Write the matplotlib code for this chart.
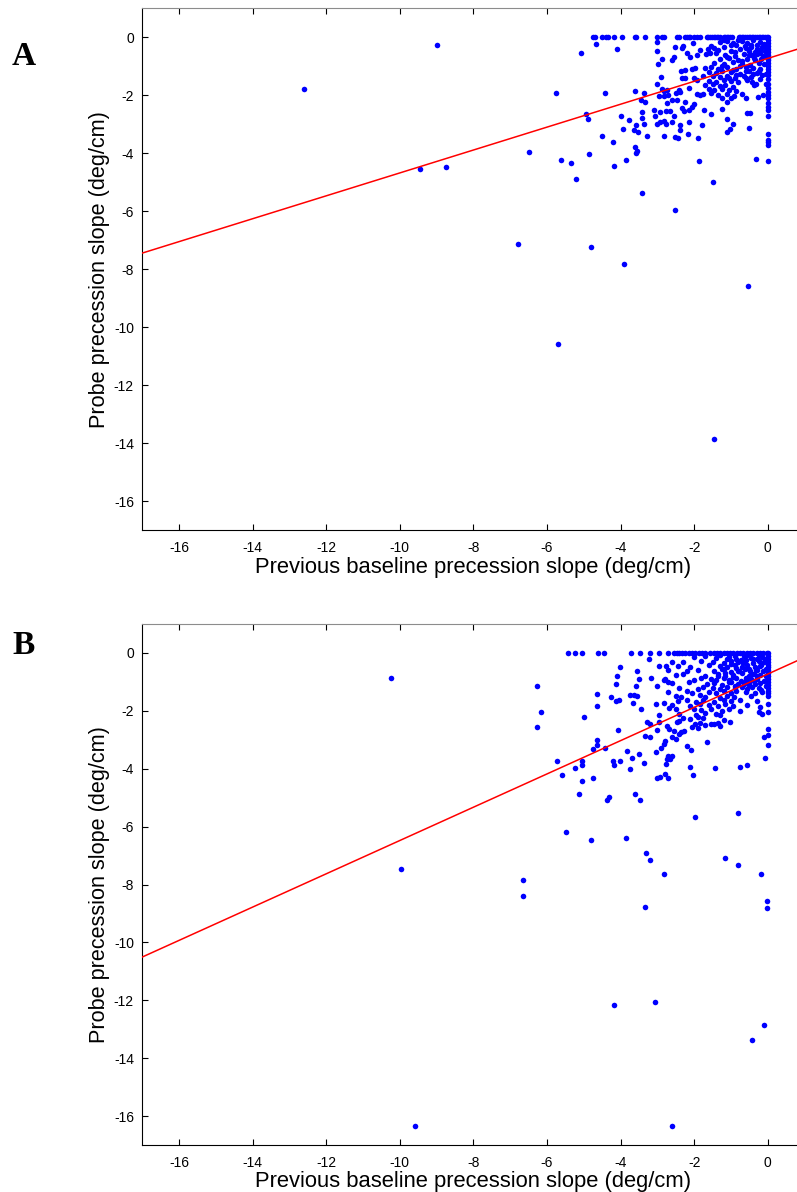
import numpy as np
import matplotlib
matplotlib.use('Agg')
import matplotlib.pyplot as plt

plt.rcParams['font.family'] = ['Liberation Sans', 'DejaVu Sans']
plt.rcParams['axes.unicode_minus'] = False

# ---------------- panel A data (deg/cm) ----------------
# points sitting on the zero line of the probe slope
a_top_x = [-4.75, -4.69, -4.51, -4.39, -4.34, -4.17, -3.95, -3.62, -3.58, -3.34, -3.01, -2.88, -2.81,
           -2.47, -2.42, -2.24, -2.19, -2.15, -2.10, -2.01, -1.92, -1.85, -1.65, -1.61, -1.56, -1.52,
           -1.47, -1.43, -1.38, -1.34, -1.29, -1.20, -1.15, -1.11, -1.07, -1.02, -0.97, -0.79, -0.75,
           -0.70, -0.66, -0.61, -0.57, -0.52, -0.48, -0.43, -0.39, -0.34, -0.30, -0.25, -0.21, -0.16,
           -0.12, -0.07, -0.03, 0.0]
a_top_y = [0, 0, 0, 0, 0, 0, 0, 0, 0, 0, 0, 0, 0,
           0, 0, 0, 0, 0, 0, 0, 0, 0, 0, 0, 0, 0,
           0, 0, 0, 0, 0, 0, 0, 0, 0, 0, 0, 0, 0,
           0, 0, 0, 0, 0, 0, 0, 0, 0, 0, 0, 0, 0,
           0, 0, 0, 0]
# points sitting on the zero line of the baseline slope
a_edge_y = [-0.1, -0.2, -0.3, -0.4, -0.5, -0.6, -0.7, -0.8, -0.9, -1.0, -1.1, -1.2, -1.3, -1.45,
            -1.6, -1.75, -1.9, -2.0, -2.11, -2.28, -2.4, -2.51, -2.71, -3.35, -3.55, -3.63, -3.72, -4.28]
a_edge_x = [0, 0, 0, 0, 0, 0, 0, 0, 0, 0, 0, 0, 0, 0,
            0, 0, 0, 0, 0, 0, 0, 0, 0, 0, 0, 0, 0, 0]
# dense cloud near the origin
a_cl_x = [-1.3, -1.1, -0.95, -0.7, -0.55, -0.4, -0.2, -0.1,
          -1.55, -1.2, -0.85, -0.62, -0.45, -0.3, -0.15,
          -1.35, -1.0, -0.75, -0.5, -0.35, -0.22, -0.08,
          -1.15, -0.9, -0.65, -0.42, -0.28, -0.12,
          -1.3, -1.05, -0.8, -0.55, -0.35, -0.18,
          -1.45, -1.2, -0.95, -0.7, -0.48, -0.25, -0.1,
          -1.7, -1.55, -1.35, -1.1, -0.85, -0.6, -0.4, -0.2,
          -1.6, -1.4, -1.25, -1.0, -0.75, -0.5, -0.3,
          -1.75, -1.5, -1.3, -1.1, -0.9, -0.65, -0.45, -0.15,
          -1.6, -1.4, -1.2, -1.0, -0.8, -0.55,
          -1.7, -1.5, -1.3, -1.15, -0.95, -0.38, -0.31,
          -1.6, -1.45, -1.25, -1.05, -0.85,
          -1.75, -1.55, -1.35, -1.1, -0.69,
          -1.2, -1.0, -0.8, -0.6, -0.45, -0.3, -0.05,
          -1.4, -1.1, -0.9, -0.7, -0.52, -0.38, -0.2, -0.05,
          -1.25, -0.95, -0.75, -0.58, -0.4, -0.25, -0.05,
          -1.05, -0.85, -0.6, -0.42, -0.22, -0.05]
a_cl_y = [-0.15, -0.12, -0.18, -0.14, -0.2, -0.11, -0.16, -0.22,
          -0.3, -0.33, -0.27, -0.31, -0.35, -0.28, -0.32,
          -0.45, -0.48, -0.42, -0.46, -0.5, -0.43, -0.47,
          -0.6, -0.63, -0.58, -0.62, -0.57, -0.65,
          -0.75, -0.72, -0.78, -0.74, -0.8, -0.76,
          -0.9, -0.93, -0.87, -0.91, -0.95, -0.88, -0.92,
          -1.05, -1.02, -1.08, -1.04, -1.1, -1.01, -1.06, -1.09,
          -1.2, -1.23, -1.17, -1.21, -1.25, -1.18, -1.22,
          -1.35, -1.32, -1.38, -1.34, -1.4, -1.33, -1.37, -1.31,
          -1.5, -1.53, -1.47, -1.51, -1.55, -1.48,
          -1.65, -1.62, -1.68, -1.64, -1.7, -1.65, -1.62,
          -1.8, -1.83, -1.77, -1.81, -1.85,
          -1.95, -1.92, -1.98, -1.94, -1.95,
          -0.08, -0.25, -0.1, -0.38, -0.27, -0.4, -0.35,
          -0.55, -0.68, -0.52, -0.83, -0.6, -0.7, -0.55, -0.65,
          -0.98, -1.12, -0.98, -1.15, -1.28, -1.15, -1.25,
          -1.42, -1.3, -1.42, -1.55, -1.45, -1.6]
# everything else
a_x = [-12.6, -9.0, -9.46, -8.75, -6.79, -4.8, -3.9, -2.52, -0.54, -5.69, -1.46, -6.48,
       -4.67, -4.11, -5.08, -3.0, -3.0, -2.88, -2.97, -2.91, -3.01, -2.88, -2.81, -2.74,
       -2.95, -2.83, -2.70, -5.76, -4.41, -3.61, -3.37, -3.45, -3.33, -4.94, -4.88, -4.0,
       -3.76, -3.42, -3.43, -3.37, -3.59, -3.92, -3.64, -3.53, -3.28, -4.5, -4.21, -3.62,
       -3.56, -3.58, -4.87, -5.62, -5.36, -3.86, -4.17, -5.21, -3.42, -3.10, -3.06, -2.92,
       -3.01, -2.92, -2.81, -2.76, -2.83,
       -0.32, -1.48, -1.87, -0.5, -0.55, -0.48, -0.13, -0.27, -0.93, -1.02, -1.11, -1.1,
       -1.24, -1.54, -1.79, -1.9, -1.74, -1.25, -1.1, -1.0, -0.91, -0.6, -1.92, -1.83,
       -2.15, -2.38, -2.38, -2.17, -2.51, -2.45, -2.6, -2.56, -2.65, -2.76, -2.27, -2.15,
       -2.06, -2.01, -2.33, -2.6, -2.47, -2.74, -2.24, -2.15, -2.33, -2.24, -2.01, -1.92,
       -2.37, -2.24, -2.05, -1.99, -2.6, -2.56, -2.19, -2.12, -2.03, -2.33, -2.29, -2.51,
       -1.92, -1.85, -1.61, -1.67, -1.47, -2.38, -2.42, -2.49, -1.56]
a_y = [-1.8, -0.27, -4.55, -4.48, -7.13, -7.23, -7.82, -5.97, -8.58, -10.59, -13.85, -3.97,
       -0.22, -0.40, -0.55, -0.17, -0.48, -0.76, -0.91, -1.38, -1.61, -1.80, -1.85, -1.82,
       -2.02, -2.02, -1.99, -1.93, -1.93, -1.85, -1.91, -2.18, -2.24, -2.66, -2.82, -2.71,
       -2.87, -2.57, -2.80, -2.99, -3.02, -3.16, -3.19, -3.26, -3.42, -3.42, -3.6, -3.80,
       -3.91, -3.98, -4.04, -4.24, -4.35, -4.24, -4.43, -4.9, -5.37, -2.52, -2.71, -2.57,
       -3.0, -2.94, -2.89, -3.0, -3.42,
       -4.19, -4.99, -4.26, -3.14, -2.62, -2.6, -1.99, -2.05, -2.99, -3.17, -3.26, -2.83,
       -2.49, -2.64, -3.03, -3.47, -2.51, -2.11, -2.25, -2.11, -2.02, -2.08, -1.94, -2.0,
       -2.94, -3.03, -3.21, -3.32, -3.43, -3.49, -2.94, -2.71, -2.55, -2.55, -2.54, -2.51,
       -2.4, -2.3, -2.43, -2.16, -2.16, -2.28, -2.22, -1.74, -1.42, -1.42, -1.39, -1.47,
       -1.16, -1.13, -1.09, -1.05, -0.78, -0.67, -0.55, -0.67, -0.21, -0.38, -0.3, -0.32,
       -0.61, -0.44, -0.4, -0.59, -0.38, -1.88, -1.82, -1.93, -0.55]
a_fit = (0.395, -0.73)   # slope, intercept of the red regression line

# ---------------- panel B data (deg/cm) ----------------
b_top_x = [-5.43, -5.24, -5.05, -4.61, -4.44, -3.71, -3.48, -3.21, -2.96, -2.70, -2.56, -2.47,
           -2.42, -2.33, -2.24, -2.15, -2.06, -1.97, -1.88, -1.79, -1.70, -1.56, -1.47, -1.38,
           -1.29, -1.20, -1.11, -1.02, -0.93, -0.84, -0.75, -0.66, -0.57, -0.48, -0.39, -0.30,
           -0.21, -0.12, -0.03, 0.0]
b_top_y = [0, 0, 0, 0, 0, 0, 0, 0, 0, 0, 0, 0,
           0, 0, 0, 0, 0, 0, 0, 0, 0, 0, 0, 0,
           0, 0, 0, 0, 0, 0, 0, 0, 0, 0, 0, 0,
           0, 0, 0, 0]
b_edge_y = [-0.1, -0.2, -0.3, -0.4, -0.5, -0.6, -0.7, -0.8, -0.9, -1.0, -1.1, -1.2, -1.3, -1.4,
            -1.5, -1.76, -2.03, -2.62, -2.85, -3.18]
b_edge_x = [0, 0, 0, 0, 0, 0, 0, 0, 0, 0, 0, 0, 0, 0,
            0, 0, 0, 0, 0, 0]
b_cl_x = [-2.0, -1.7, -1.4, -1.05, -0.85, -0.65, -0.45, -0.3, -0.15,
          -2.6, -2.3, -1.8, -1.5, -1.2, -1.0, -0.8, -0.6, -0.4, -0.25, -0.1,
          -2.45, -2.1, -1.6, -1.3, -1.1, -0.9, -0.7, -0.55, -0.35, -0.2,
          -2.7, -2.2, -1.9, -1.45, -1.25, -1.0, -0.78, -0.62, -0.48, -0.3, -0.12,
          -2.5, -2.3, -1.7, -1.35, -1.15, -0.95, -0.7, -0.5, -0.38, -0.22,
          -2.8, -2.0, -1.8, -1.55, -1.4, -1.2, -1.05, -0.85, -0.6, -0.45, -0.28, -0.1,
          -2.6, -2.15, -1.65, -1.45, -1.25, -1.0, -0.8, -0.65, -0.5, -0.35, -0.2,
          -2.4, -1.9, -1.75, -1.5, -1.3, -1.1, -0.9, -0.7, -0.55, -0.42, -0.25,
          -2.7, -2.2, -2.05, -1.6, -1.4, -1.2, -1.0, -0.85, -0.6, -0.35, -0.15,
          -2.5, -2.35, -1.85, -1.7, -1.3, -1.1, -0.92, -0.45,
          -2.45, -2.2, -1.95, -1.75, -1.45, -1.2, -1.0, -0.75, -0.3,
          -2.6, -2.1, -1.85, -1.6, -1.35, -1.15, -0.95, -0.55,
          -2.5, -2.0, -1.8, -1.55, -1.25, -1.05,
          -2.4, -1.95, -1.7, -1.4, -1.3,
          -2.3, -2.1, -1.9, -1.75, -1.2,
          -1.98, -1.85, -1.7, -1.55, -1.45, -1.35,
          -2.05, -1.9, -1.29,
          -1.3, -1.1, -0.9, -0.72, -0.55, -0.4, -0.25, -0.08,
          -1.2, -1.0, -0.85, -0.68, -0.5, -0.33, -0.18, -0.05,
          -1.35, -1.15, -0.95, -0.8, -0.6, -0.42, -0.28, -0.06,
          -1.05, -0.88, -0.72, -0.52, -0.38, -0.18, -0.05]
b_cl_y = [-0.15, -0.12, -0.18, -0.14, -0.2, -0.11, -0.16, -0.22, -0.13,
          -0.3, -0.33, -0.27, -0.31, -0.35, -0.28, -0.32, -0.26, -0.34, -0.29, -0.31,
          -0.45, -0.48, -0.42, -0.46, -0.5, -0.43, -0.47, -0.41, -0.49, -0.44,
          -0.6, -0.63, -0.58, -0.62, -0.57, -0.65, -0.61, -0.56, -0.64, -0.59, -0.62,
          -0.75, -0.72, -0.78, -0.74, -0.8, -0.76, -0.71, -0.79, -0.73, -0.77,
          -0.9, -0.93, -0.87, -0.91, -0.95, -0.88, -0.92, -0.86, -0.94, -0.89, -0.91, -0.96,
          -1.05, -1.02, -1.08, -1.04, -1.1, -1.01, -1.06, -1.09, -1.03, -1.07, -1.05,
          -1.2, -1.23, -1.17, -1.21, -1.25, -1.18, -1.22, -1.16, -1.24, -1.19, -1.21,
          -1.35, -1.32, -1.38, -1.34, -1.4, -1.33, -1.37, -1.31, -1.36, -1.39, -1.34,
          -1.5, -1.53, -1.47, -1.51, -1.55, -1.48, -1.52, -1.49,
          -1.65, -1.62, -1.68, -1.64, -1.7, -1.63, -1.67, -1.61, -1.66,
          -1.8, -1.83, -1.77, -1.81, -1.85, -1.78, -1.82, -1.79,
          -1.95, -1.92, -1.98, -1.94, -2.0, -1.93,
          -2.1, -2.13, -2.07, -2.11, -2.15,
          -2.25, -2.28, -2.22, -2.26, -2.3,
          -2.45, -2.42, -2.48, -2.44, -2.47, -2.43,
          -2.55, -2.58, -2.52,
          -0.08, -0.22, -0.1, -0.24, -0.06, -0.22, -0.08, -0.2,
          -0.55, -0.38, -0.52, -0.36, -0.55, -0.58, -0.4, -0.55,
          -0.8, -0.68, -0.82, -0.62, -0.88, -0.72, -0.8, -0.78,
          -1.0, -1.15, -0.96, -1.12, -0.98, -1.28, -1.15]
b_x = [-10.25, -9.96, -9.6, -2.59, -6.64, -6.64, -5.48, -4.8, -3.86, -3.32, -3.2, -2.82,
       -3.34, -1.17, -0.8, -0.17, -0.02, -0.02, -4.17, -3.06, -0.09, -0.44,
       -6.27, -6.16, -6.27, -5.12, -4.38, -4.31, -3.62, -3.48, -1.99, -0.81,
       -3.23, -2.95, -2.77, -4.01, -3.54, -4.1, -3.5, -3.16, -2.83, -2.72, -4.12, -3.57,
       -3.0, -4.63, -4.27, -3.74, -3.64, -3.55, -4.12, -4.04, -3.66, -3.45, -3.05, -2.83,
       -2.67, -4.63, -5.0, -2.96, -3.28, -3.21, -2.95, -3.01, -2.75, -2.69, -4.07, -3.34,
       -3.19, -4.65, -4.64, -4.75, -4.43, -2.78, -2.83, -2.9, -3.82, -3.05, -3.7, -3.49,
       -5.73, -5.04, -5.05, -5.25, -4.2, -4.18, -4.01, -3.35, -3.73, -5.58, -5.04, -4.76,
       -3.0, -2.92, -2.78, -2.7, -2.74,
       -0.2, -0.25, -0.16, -0.09, -0.07, -0.55, -0.75, -1.42, -1.64, -2.12, -2.04, -2.19,
       -2.08, -2.59, -2.65, -2.76, -2.6, -2.48, -2.41, -2.55, -2.37, -2.28, -2.7, -2.47,
       -2.42, -1.02, -0.75]
b_y = [-0.85, -7.47, -16.35, -16.35, -7.83, -8.39, -6.2, -6.47, -6.4, -6.9, -7.16, -7.64,
       -8.77, -7.08, -7.32, -7.64, -8.57, -8.8, -12.16, -12.05, -12.84, -13.38,
       -1.13, -2.05, -2.57, -4.89, -5.07, -4.97, -4.89, -5.07, -5.68, -5.53,
       -0.22, -0.44, -0.44, -0.48, -0.63, -0.81, -0.9, -0.85, -0.92, -1.02, -1.07, -1.13,
       -1.15, -1.42, -1.51, -1.44, -1.47, -1.49, -1.67, -1.62, -1.73, -1.93, -1.76, -1.72,
       -1.91, -1.83, -2.23, -2.16, -2.37, -2.45, -2.4, -2.66, -2.52, -2.62, -2.65, -2.88,
       -2.9, -3.0, -3.18, -3.31, -3.28, -3.03, -3.14, -3.29, -3.4, -3.43, -3.63, -3.5,
       -3.72, -3.75, -3.86, -3.97, -3.72, -3.87, -3.72, -3.81, -4.0, -4.21, -4.42, -4.33,
       -4.31, -4.27, -4.18, -3.55, -3.66,
       -1.88, -2.05, -2.11, -2.91, -3.62, -3.86, -3.93, -3.97, -3.08, -3.93, -4.23, -3.21,
       -3.35, -3.55, -3.66, -3.83, -2.91, -2.97, -2.8, -2.68, -2.74, -2.68, -4.33, -2.39,
       -2.34, -2.39, -2.0]
b_fit = (0.575, -0.73)

ticks = [-16, -14, -12, -10, -8, -6, -4, -2, 0]
xlab = 'Previous baseline precession slope (deg/cm)'
ylab = 'Probe precession slope (deg/cm)'

W, H = 797, 1192
fig = plt.figure(figsize=(W / 100, H / 100), dpi=100)
# axes boxes in pixels: left, top, right, bottom (right spine lies just past the image edge)
boxes = [(142.3, 8.3, 804.5, 530.0), (142.3, 624.0, 804.5, 1145.0)]
letter_base = [65, 654]   # baseline of the panel letters, pixels from top
panels = [
    ('A', [a_top_x, a_edge_x, a_cl_x, a_x], [a_top_y, a_edge_y, a_cl_y, a_y], a_fit),
    ('B', [b_top_x, b_edge_x, b_cl_x, b_x], [b_top_y, b_edge_y, b_cl_y, b_y], b_fit),
]

for (l, t, r, b), lb, (letter, xs, ys, fit) in zip(boxes, letter_base, panels):
    ax = fig.add_axes([l / W, 1 - b / H, (r - l) / W, (b - t) / H])
    x = np.concatenate([np.asarray(v, float) for v in xs])
    y = np.concatenate([np.asarray(v, float) for v in ys])
    ax.plot(x, y, 'o', color='#0000ff', ms=4.0, mec='none', zorder=2)
    xl = np.array([-17, 1])
    ax.plot(xl, fit[0] * xl + fit[1], color='#ff0000', lw=1.1, zorder=3)
    ax.set_xlim(-17, 1)
    ax.set_ylim(-17, 1)
    ax.set_xticks(ticks)
    ax.set_yticks(ticks)
    ax.tick_params(direction='in', length=4, width=0.8, top=True, right=True, labelsize=10)
    ax.tick_params(axis='x', pad=8)
    ax.tick_params(axis='y', pad=6)
    for s in ax.spines.values():
        s.set_linewidth(0.8)
    ax.spines['top'].set_color('0.55')
    ax.set_xlabel(xlab, fontsize=15.8, labelpad=1)
    ax.set_ylabel(ylab, fontsize=15.6, labelpad=3)
    fig.text(12 / W, 1 - lb / H, letter, family='Liberation Serif',
             fontweight='bold', fontsize=24, ha='left', va='baseline')

fig.savefig('out.png', dpi=100)
